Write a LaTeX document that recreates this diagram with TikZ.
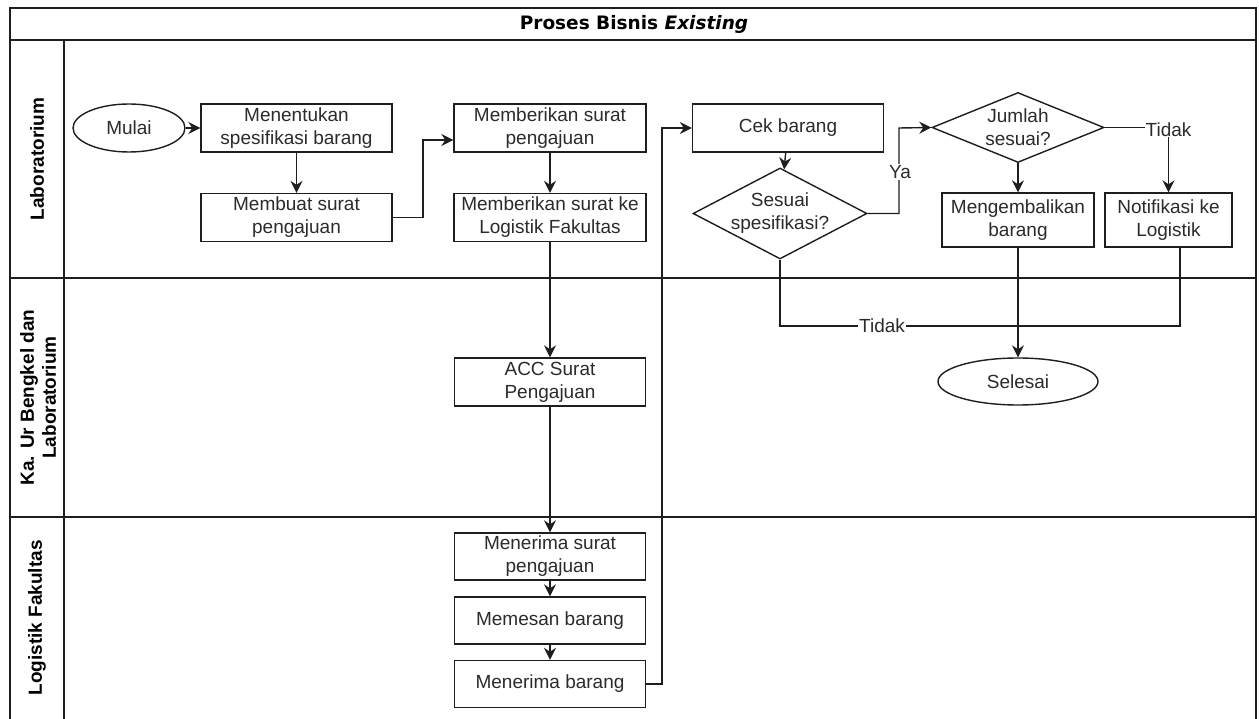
\documentclass[tikz,border=0pt]{standalone}
\usepackage{fontspec}
\setmainfont{Liberation Sans}
\newfontfamily\titlefont{DejaVu Sans}
\usetikzlibrary{arrows.meta,shapes.geometric}
\definecolor{ln}{HTML}{1E1E1E}
\definecolor{tx}{HTML}{2B2B2B}
\begin{document}
\begin{tikzpicture}[x=1pt,y=-1pt,
  lane/.style={draw=ln,line width=1.6pt},
  nfont/.style={font=\fontsize{19}{23}\selectfont},
  box/.style={nfont,draw=ln,line width=1.4pt,rectangle,inner sep=0pt,minimum width=191pt,minimum height=48pt,align=center,text=tx},
  term/.style={nfont,draw=ln,line width=1.4pt,ellipse,inner sep=0pt,align=center,text=tx},
  dec/.style={draw=ln,line width=1.4pt,diamond,inner sep=0pt},
  dectext/.style={nfont,align=center,text=tx,inner sep=0pt},
  flow/.style={draw=ln,line width=1.4pt,-{Stealth[length=12pt,width=12pt,inset=4pt]}},
  plain/.style={draw=ln,line width=1.4pt},
  lbl/.style={nfont,fill=white,inner sep=1pt,text=tx},
  lanetxt/.style={rotate=90,font=\bfseries\fontsize{19}{22}\selectfont,align=center,text=black}
]
\useasboundingbox (0,0) rectangle (1259,719);
\fill[white] (0,0) rectangle (1259,719);

% pool and lanes
\draw[lane] (10,719) -- (10,8) -- (1256,8) -- (1256,719);
\draw[lane] (10,40) -- (1256,40);
\draw[lane] (10,278) -- (1256,278);
\draw[lane] (10,517) -- (1256,517);
\draw[lane] (64,40) -- (64,719);

\node[font=\titlefont\bfseries\fontsize{18.5}{21}\selectfont,text=black] (title) at (634,24) {Proses Bisnis \textit{Existing}};
\node[lanetxt] (lab) at (37,159) {Laboratorium};
\node[lanetxt] (kaur) at (38,397.5) {Ka. Ur Bengkel dan\\Laboratorium};
\node[lanetxt] (logf) at (37,618) {Logistik Fakultas};

% nodes
\node[term,minimum width=112pt,minimum height=48pt] (mulai) at (129,128) {Mulai};
\node[box] (spec) at (296.5,128) {Menentukan\\spesifikasi barang};
\node[box] (buat) at (296.5,217.5) {Membuat surat\\pengajuan};
\node[box,minimum width=192pt] (beri1) at (550,128) {Memberikan surat\\pengajuan};
\node[box,minimum width=192pt] (beri2) at (550,217.5) {Memberikan surat ke\\Logistik Fakultas};
\node[box] (cek) at (788,128) {Cek barang};
\node[dec,minimum width=174pt,minimum height=91pt,label={[dectext]center:Sesuai\\spesifikasi?}] (sesuai) at (780,213.5) {};
\node[dec,minimum width=172pt,minimum height=70pt,label={[dectext]center:Jumlah\\sesuai?}] (jumlah) at (1018,127.5) {};
\node[box,minimum width=152pt,minimum height=54pt] (kembali) at (1018,220) {Mengembalikan\\barang};
\node[box,minimum width=127pt,minimum height=54pt] (notif) at (1168.5,220) {Notifikasi ke\\Logistik};
\node[term,minimum width=160pt,minimum height=47pt] (selesai) at (1018,381.5) {Selesai};
\node[box,minimum width=191pt] (acc) at (550,382) {ACC Surat\\Pengajuan};
\node[box,minimum height=47pt] (terima1) at (550,556.5) {Menerima surat\\pengajuan};
\node[box,minimum height=47pt] (pesan) at (550,620.5) {Memesan barang};
\node[box,minimum height=47pt] (terima2) at (550,684) {Menerima barang};

% bend points
\coordinate (b1) at (423,140);
\coordinate (c1) at (662,128);
\coordinate (y1) at (899,128);
\coordinate (n1) at (1180,326);

% connectors
\draw[flow] (mulai) -- (spec);
\draw[flow] (spec) -- (buat);
\draw[flow] (buat.east) -| (b1) -- (b1 -| beri1.west);
\draw[flow] (beri1) -- (beri2);
\draw[flow] (beri2) -- (acc);
\draw[flow] (acc) -- (terima1);
\draw[flow] (terima1) -- (pesan);
\draw[flow] (pesan) -- (terima2);
\draw[flow] (terima2.east) -| (c1) -- (cek.west);
\draw[flow] (cek) -- (sesuai);
\draw[flow] (sesuai.east) -| (y1) -- (jumlah.west);
\node[lbl] (ya) at (900,172) {Ya};
\draw[flow] (jumlah.east) -| (notif.north) node[lbl,pos=0.5,yshift=-2pt] (tdk1) {Tidak};
\draw[flow] (jumlah) -- (kembali);
\draw[plain] (n1 |- notif.south) -- (n1) -- (sesuai.south |- n1) -- (sesuai.south);
\node[lbl] (tdk2) at (882,326) {Tidak};
\draw[flow] (kembali) -- (selesai);
\end{tikzpicture}
\end{document}
